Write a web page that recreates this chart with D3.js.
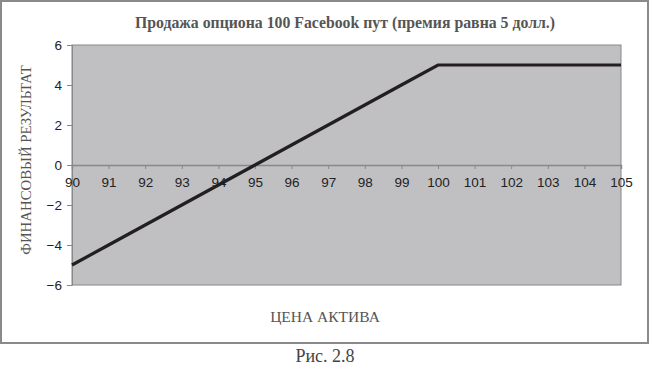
<!DOCTYPE html>
<html><head><meta charset="utf-8">
<script src="https://cdn.jsdelivr.net/npm/d3@7"></script>
<style>body{margin:0;background:#fff;}svg{display:block;}</style>
</head><body>
<svg id="chart" width="650" height="365"></svg>
<script>
const prices = [90,91,92,93,94,95,96,97,98,99,100,101,102,103,104,105];
const payoff = [-5,-4,-3,-2,-1,0,1,2,3,4,5,5,5,5,5,5];
const yTicks = [-6,-4,-2,0,2,4,6];
const xTicks = [90,91,92,93,94,95,96,97,98,99,100,101,102,103,104,105];
const titleText = "Продажа опциона 100 Facebook пут (премия равна 5 долл.)";
const xTitle = "ЦЕНА АКТИВА";
const yTitle = "ФИНАНСОВЫЙ РЕЗУЛЬТАТ";
const caption = "Рис. 2.8";

const svg = d3.select("#chart");
const serif = "'Liberation Serif','DejaVu Serif',serif";
const sans = "'Liberation Sans',Arial,sans-serif";

// outer frame
svg.append("rect").attr("x",1).attr("y",1).attr("width",647).attr("height",342)
  .attr("fill","#fff").attr("stroke","#8a8a8a").attr("stroke-width",2);

const x = d3.scaleLinear().domain([90,105]).range([72,621]);
const y = d3.scaleLinear().domain([-6,6]).range([285,45]);

svg.append("rect").attr("x",x(90)).attr("y",y(6)).attr("width",x(105)-x(90)).attr("height",y(-6)-y(6))
  .attr("fill","#c0c0c3").attr("stroke","#888").attr("stroke-width",1);

// y axis
const yAxis = svg.append("g").attr("transform",`translate(${x(90)},0)`)
  .call(d3.axisLeft(y).tickValues(yTicks).tickSize(5).tickPadding(5).tickFormat(d3.format("d")));
yAxis.select(".domain").attr("stroke","#888");
yAxis.selectAll(".tick line").attr("stroke","#888");
yAxis.selectAll("text").attr("font-family",sans).attr("font-size",13.5).attr("fill","#222");

// x axis at zero
const xAxis = svg.append("g").attr("transform",`translate(0,${y(0)})`)
  .call(d3.axisBottom(x).tickValues(xTicks).tickSize(4).tickPadding(8).tickFormat(d3.format("d")));
xAxis.select(".domain").attr("stroke","#888").attr("stroke-width",1.5);
xAxis.selectAll(".tick line").attr("stroke","#888");
xAxis.selectAll("text").attr("font-family",sans).attr("font-size",13.5).attr("fill","#222");

// line
svg.append("path").datum(prices.map((p,i)=>[p,payoff[i]]))
  .attr("d", d3.line().x(d=>x(d[0])).y(d=>y(d[1])))
  .attr("fill","none").attr("stroke","#231f20").attr("stroke-width",3.2);

// titles
svg.append("text").attr("x",345).attr("y",28).attr("text-anchor","middle")
  .attr("font-family",serif).attr("font-weight","bold").attr("font-size",15.8).attr("fill","#555")
  .text(titleText);
svg.append("text").attr("x",325).attr("y",322).attr("text-anchor","middle")
  .attr("font-family",serif).attr("font-size",15.5).attr("fill","#555").text(xTitle);
svg.append("text").attr("transform","translate(31,160) rotate(-90)").attr("text-anchor","middle")
  .attr("font-family",serif).attr("font-size",14.8).attr("fill","#555").text(yTitle);
svg.append("text").attr("x",325).attr("y",362).attr("text-anchor","middle")
  .attr("font-family",serif).attr("font-size",18).attr("fill","#444").text(caption);
</script>
</body></html>
